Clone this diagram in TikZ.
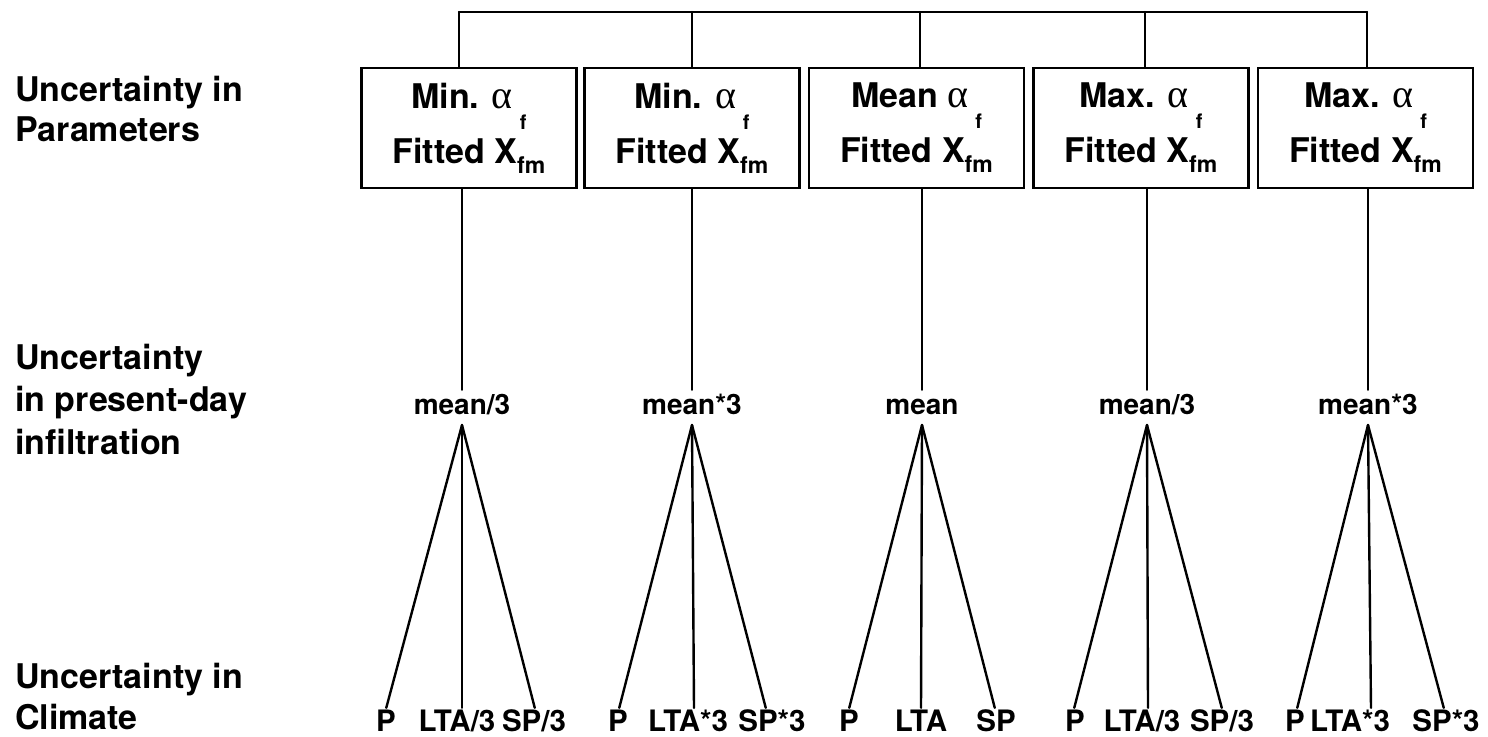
\documentclass[tikz,border=0pt]{standalone}
\usepackage{fontspec}
\setmainfont{TeX Gyre Heros}
\newfontfamily\symfont{Liberation Serif}
\usetikzlibrary{calc}

% alpha with a lowered subscript f, and X with subscript fm
\newcommand{\alf}{{\symfont\mdseries\fontsize{40}{40}\selectfont α}\hspace{7pt}\raisebox{-21pt}{\fontsize{20}{20}\selectfont f}}
\newcommand{\xfm}{X\raisebox{-10pt}{\fontsize{23}{23}\selectfont fm}}

\tikzset{
  conn/.style={line width=2.4pt, line cap=round},
  pbox/.style={draw, line width=2.4pt, minimum width=215pt, minimum height=120pt,
               inner sep=0pt, align=center, font=\bfseries\fontsize{34}{55}\selectfont},
  mlab/.style={anchor=base, inner sep=0pt, text height=20pt, text depth=0pt,
               font=\bfseries\fontsize{28}{28}\selectfont},
  blab/.style={anchor=base, inner sep=0pt, text height=22pt, text depth=0pt,
               font=\bfseries\fontsize{29.5}{29.5}\selectfont},
  side/.style={anchor=north west, inner sep=0pt, align=left}
}

\begin{document}
\begin{tikzpicture}[x=1pt, y=-1pt]
\useasboundingbox (0,0) rectangle (1488,736);

% row labels
\node[side, font=\bfseries\fontsize{34}{40}\selectfont] (r1) at (15,75.5) {Uncertainty in\\Parameters};
\node[side, font=\bfseries\fontsize{34}{42.5}\selectfont] (r2) at (15,343.5) {Uncertainty\\in present-day\\infiltration};
\node[side, font=\bfseries\fontsize{34}{41}\selectfont] (r3) at (15,662.5) {Uncertainty in\\Climate};

% parameter boxes
\node[pbox] (b1) at (469,128) {Min. \alf\\Fitted \xfm};
\node[pbox] (b2) at (692,128) {Min. \alf\\Fitted \xfm};
\node[pbox] (b3) at (916.5,128) {Mean \alf\\Fitted \xfm};
\node[pbox] (b4) at (1141,128) {Max. \alf\\Fitted \xfm};
\node[pbox] (b5) at (1365.5,128) {Max. \alf\\Fitted \xfm};

% top bracket
\coordinate (t1) at (459,12);
\coordinate (t2) at (692,12);
\coordinate (t3) at (920,12);
\coordinate (t4) at (1145,12);
\coordinate (t5) at (1367,12);
\draw[conn] (t1) -- (t5);
\foreach \i in {1,...,5} { \draw[conn] (t\i) -- (t\i |- b\i.north); }

% present-day infiltration labels
\node[mlab] (m1) at (462,414) {mean/3};
\node[mlab] (m2) at (692,414) {mean*3};
\node[mlab] (m3) at (922,414) {mean};
\node[mlab] (m4) at (1147,414) {mean/3};
\node[mlab] (m5) at (1368,414) {mean*3};
\foreach \i in {1,...,5} {
  \draw[conn, shorten >=4pt] (m\i.north |- b\i.south) -- (m\i.north);
  \coordinate (a\i) at ($(m\i.base)+(0,11)$);
}

% climate labels
\node[blab] (p1) at (386,731) {P};
\node[blab] (l1) at (457,731) {LTA/3};
\node[blab] (s1) at (534,731) {SP/3};
\node[blab] (p2) at (618,731) {P};
\node[blab] (l2) at (688,731) {LTA*3};
\node[blab] (s2) at (772,731) {SP*3};
\node[blab] (p3) at (849,731) {P};
\node[blab] (l3) at (921,731) {LTA};
\node[blab] (s3) at (996,731) {SP};
\node[blab] (p4) at (1075,731) {P};
\node[blab] (l4) at (1142,731) {LTA/3};
\node[blab] (s4) at (1222,731) {SP/3};
\node[blab] (p5) at (1295,731) {P};
\node[blab] (l5) at (1350,731) {LTA*3};
\node[blab] (s5) at (1446,731) {SP*3};

% fans
\draw[conn, shorten >=1pt] (a1) -- (p1.north);
\draw[conn, shorten >=1pt] (a1) -- ([xshift=5pt]l1.north);
\draw[conn, shorten >=1pt] (a1) -- ([xshift=1pt]s1.north);
\draw[conn, shorten >=1pt] (a2) -- ([xshift=1pt]p2.north);
\draw[conn, shorten >=1pt] (a2) -- ([xshift=6pt]l2.north);
\draw[conn, shorten >=1pt] (a2) -- ([xshift=-6pt]s2.north);
\draw[conn, shorten >=1pt] (a3) -- (p3.north);
\draw[conn, shorten >=1pt] (a3) -- (l3.north);
\draw[conn, shorten >=1pt] (a3) -- ([xshift=-1pt]s3.north);
\draw[conn, shorten >=1pt] (a4) -- ([xshift=-1pt]p4.north);
\draw[conn, shorten >=1pt] (a4) -- ([xshift=6pt]l4.north);
\draw[conn, shorten >=1pt] (a4) -- (s4.north);
\draw[conn, shorten >=1pt] (a5) -- ([xshift=2pt]p5.north);
\draw[conn, shorten >=1pt] (a5) -- ([xshift=21pt]l5.north);
\draw[conn, shorten >=1pt] (a5) -- ([xshift=-2pt]s5.north);
\end{tikzpicture}
\end{document}
